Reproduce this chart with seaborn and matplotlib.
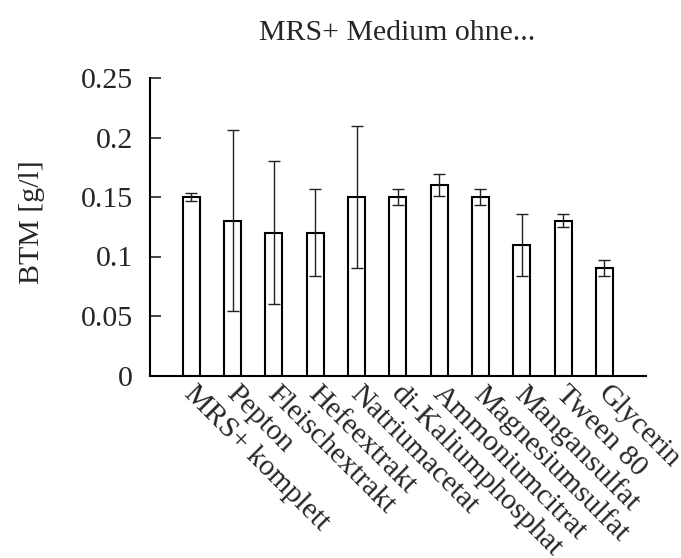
import matplotlib
matplotlib.use("Agg")
import matplotlib.pyplot as plt
import matplotlib.transforms as mtransforms
import seaborn as sns
import numpy as np

categories = ["MRS+ komplett", "Pepton", "Fleischextrakt", "Hefeextrakt",
              "Natriumacetat", "di-Kaliumphosphat", "Ammoniumcitrat",
              "Magnesiumsulfat", "Mangansulfat", "Tween 80", "Glycerin"]
values = [0.150, 0.130, 0.120, 0.120, 0.150, 0.150, 0.160, 0.150, 0.110, 0.130, 0.090]
errors = [0.0037, 0.076, 0.060, 0.0366, 0.060, 0.007, 0.0095, 0.0067, 0.026, 0.0055, 0.0068]
yticks = [0, 0.05, 0.1, 0.15, 0.2, 0.25]
yticklabels = ["0", "0.05", "0.1", "0.15", "0.2", "0.25"]

FS = 21.5

sns.set_theme(style="white")
plt.rcParams['font.family'] = ['Liberation Serif', 'DejaVu Serif']

fig = plt.figure(figsize=(6.81, 5.58), dpi=100)
ax = fig.add_axes([150/681, 1-375.5/558, (645.7-150)/681, (375.5-78)/558])

sns.barplot(x=categories, y=values, ax=ax, color="white", edgecolor="black",
            linewidth=1.5, width=0.41, saturation=1, errorbar=None)
ax.errorbar(np.arange(len(categories)), values, yerr=errors, fmt="none",
            ecolor="#222222", elinewidth=1.0, capsize=4, capthick=1.0)

ax.set_xlim(-1, 11)
ax.set_ylim(0, 0.25)
ax.set_yticks(yticks)
ax.set_yticklabels(yticklabels, fontsize=FS)
ax.tick_params(axis="y", direction="in", length=8, width=1.2, pad=12.2, left=True)
ax.tick_params(axis="x", length=0, pad=4)
ax.set_xticks(np.arange(len(categories)))
ax.set_xticklabels(categories, rotation=-45, ha="left", va="top",
                   rotation_mode="anchor", fontsize=FS)
offset = mtransforms.ScaledTranslation(6.5/100, 0, fig.dpi_scale_trans)
for lab in ax.get_xticklabels():
    lab.set_transform(lab.get_transform() + offset)

for s in ["top", "right"]:
    ax.spines[s].set_visible(False)
for s in ["left", "bottom"]:
    ax.spines[s].set_color("black")
    ax.spines[s].set_linewidth(1.5)

ax.set_xlabel("")
ax.set_ylabel("BTM [g/l]", fontsize=FS)
ax.yaxis.set_label_coords((45-150)/495.7, (375.5-222)/297.5)
fig.text(397/681, 1-40/558, "MRS+ Medium ohne...", ha="center", va="baseline", fontsize=FS)

fig.savefig("out.png", dpi=100, facecolor="white")
